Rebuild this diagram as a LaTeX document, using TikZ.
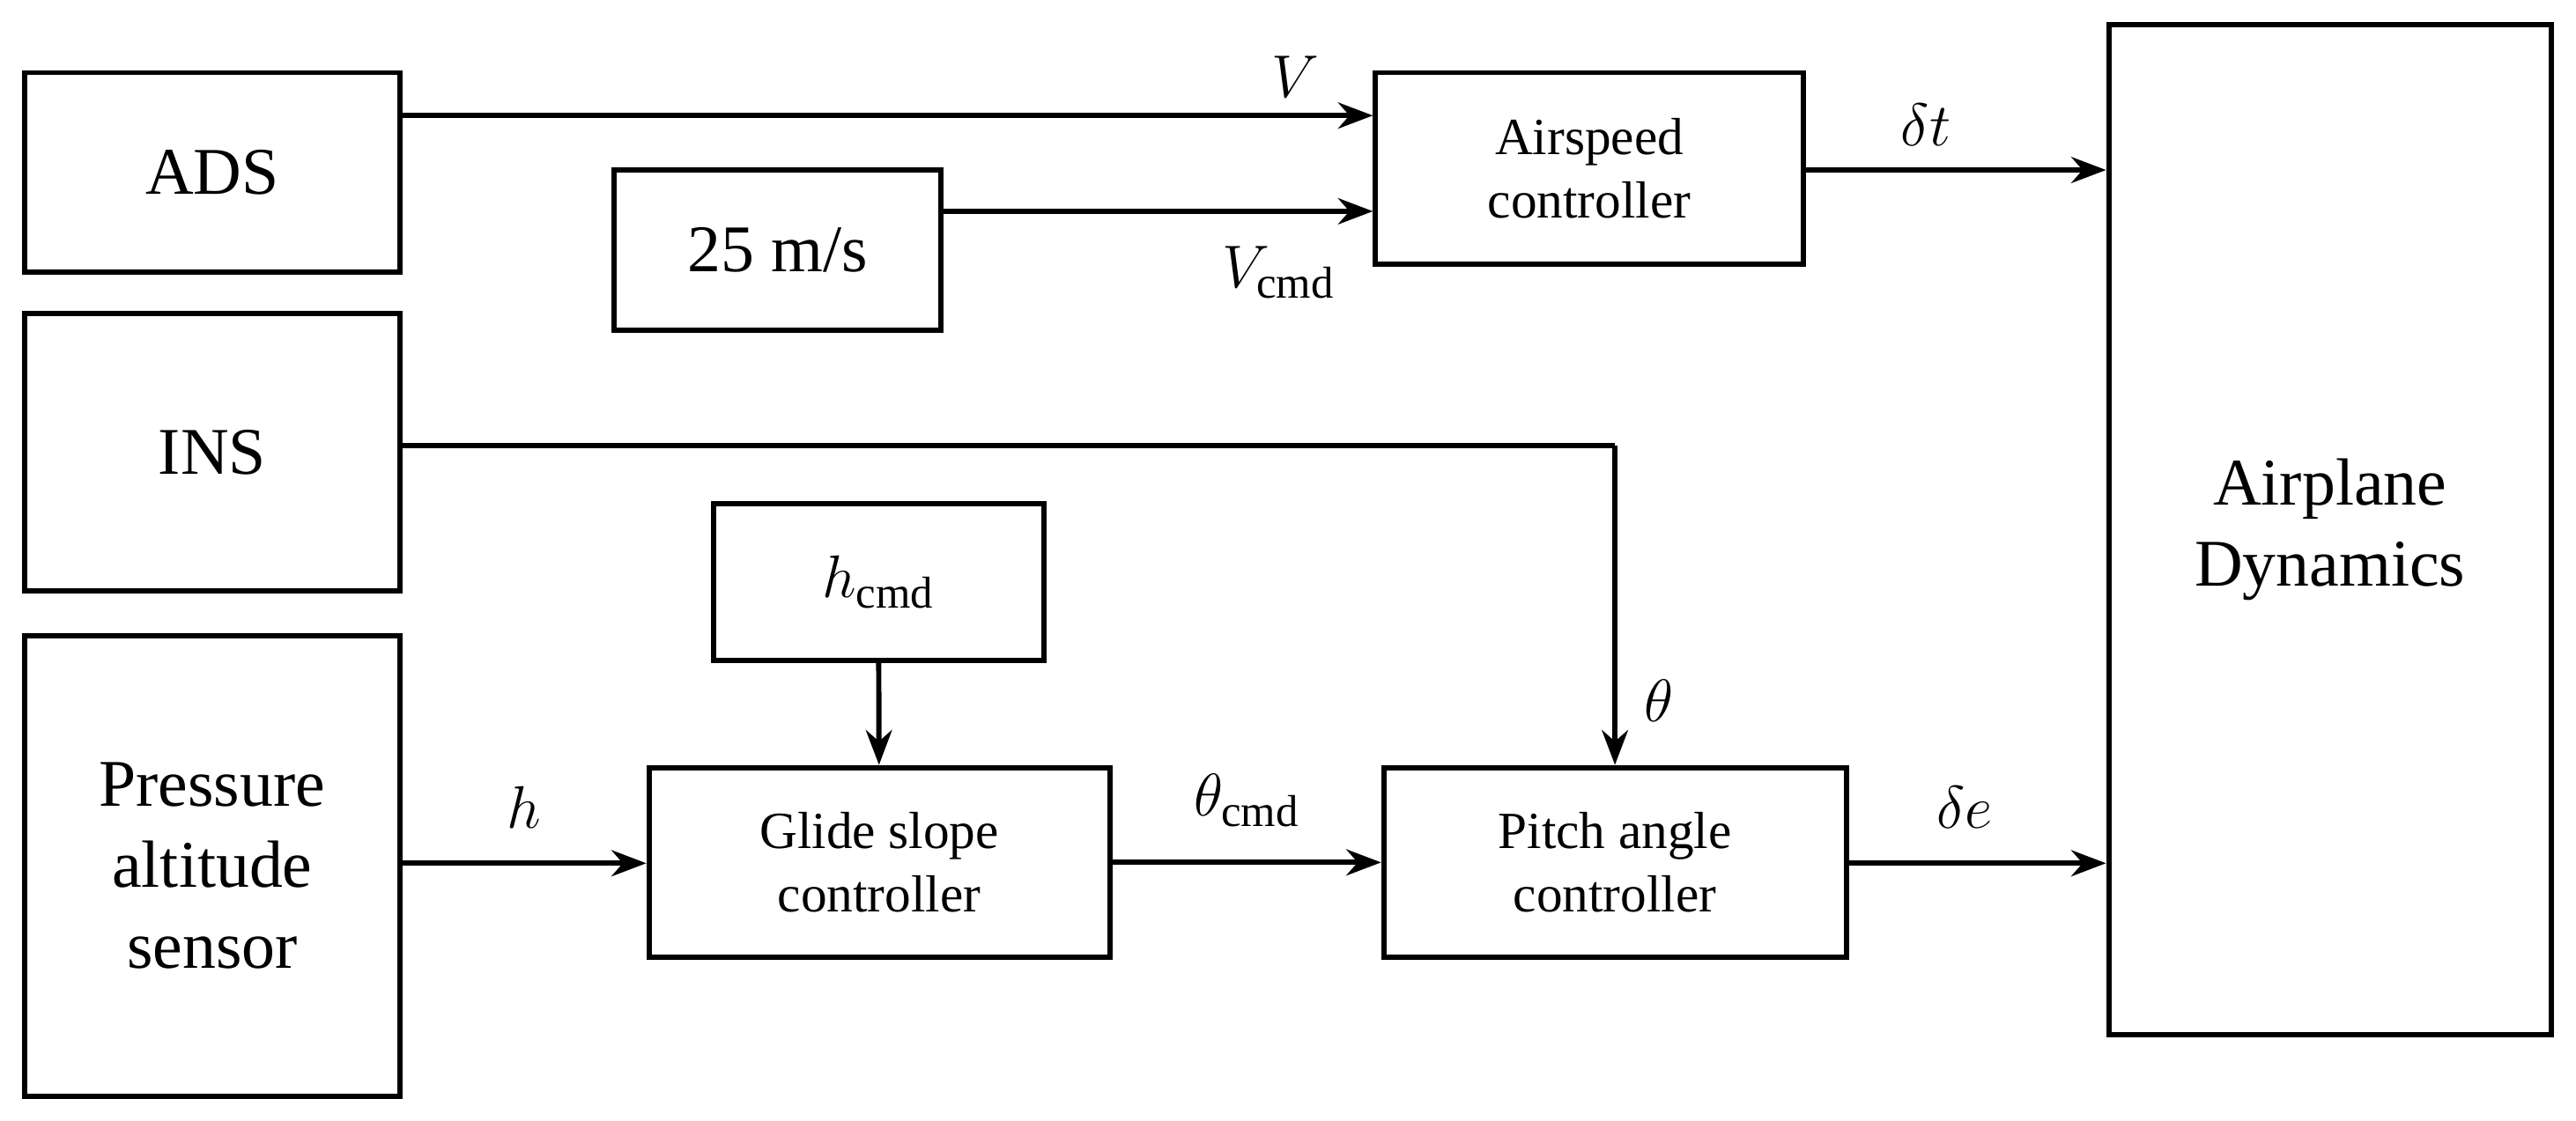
\documentclass[tikz,border=0pt]{standalone}
\usepackage{fontspec}
\setmainfont{Liberation Serif}
\usetikzlibrary{arrows.meta}
\begin{document}
\begin{tikzpicture}[x=0.02cm,y=-0.02cm,
 box/.style={draw,line width=1.8pt,inner sep=0pt,align=center},
 big/.style={font=\fontsize{23}{28}\selectfont},
 sm/.style={font=\fontsize{18}{22}\selectfont},
 lab/.style={font=\fontsize{22}{26}\selectfont},
 ar/.style={line width=1.8pt,-{Stealth[length=12pt,width=9pt]}}]
\useasboundingbox (0,0) rectangle (1560,679);
\node[box,big,minimum width=227*0.02cm,minimum height=121*0.02cm] (ads) at (128.5,104.5) {ADS};
\node[box,big,minimum width=198*0.02cm,minimum height=97*0.02cm] (c25) at (471,151.5) {25 m/s};
\node[box,sm,minimum width=259*0.02cm,minimum height=116*0.02cm] (asc) at (962.5,102) {Airspeed\\controller};
\node[box,big,minimum width=227*0.02cm,minimum height=168*0.02cm] (ins) at (128.5,274) {INS};
\node[box,big,minimum width=268*0.02cm,minimum height=612*0.02cm] (ad) at (1411,321) {Airplane\\Dynamics};
\node[box,lab,minimum width=200*0.02cm,minimum height=95*0.02cm] (hc) at (532,352.5) {$h_{\mathrm{cmd}}$};
\node[box,big,minimum width=227*0.02cm,minimum height=279*0.02cm] (pas) at (128.5,524.5) {Pressure\\altitude\\sensor};
\node[box,sm,minimum width=279*0.02cm,minimum height=115*0.02cm] (gs) at (532.5,522.5) {Glide slope\\controller};
\node[box,sm,minimum width=280*0.02cm,minimum height=115*0.02cm] (pa) at (978,522.5) {Pitch angle\\controller};
\coordinate (c1) at (978,270);
\draw[ar] (ads.east|-0,70) -- (asc.west|-0,70) node[lab,pos=0.92,above=2pt] {$V$};
\draw[ar] (c25.east|-0,128) -- (asc.west|-0,128) node[lab,pos=0.78,below=8pt] {$V_{\mathrm{cmd}}$};
\draw[ar] (asc.east|-0,103) -- (ad.west|-0,103) node[lab,pos=0.4,above=4pt] {$\delta t$};
\draw[line width=1.8pt] (ins.east|-0,270) -- (c1);
\draw[ar] (c1) -- (pa.north) node[lab,pos=0.8,right=6pt] {$\theta$};
\draw[ar] (hc) -- (gs);
\draw[ar] (pas.east|-0,523) -- (gs.west|-0,523) node[lab,midway,above=8pt] {$h$};
\draw[ar] (gs) -- (pa) node[lab,midway,above=8pt] {$\theta_{\mathrm{cmd}}$};
\draw[ar] (pa.east|-0,523) -- (ad.west|-0,523) node[lab,pos=0.45,above=8pt] {$\delta e$};
\end{tikzpicture}
\end{document}
